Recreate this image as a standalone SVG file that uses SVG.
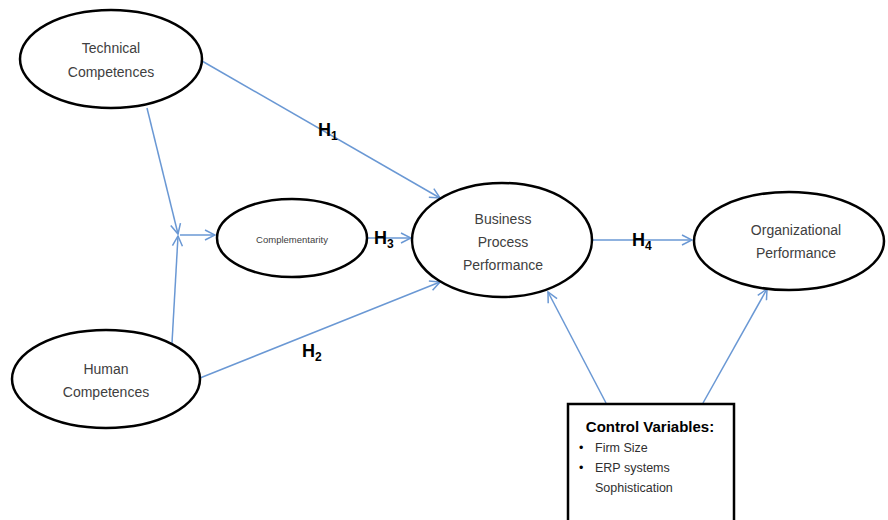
<svg xmlns="http://www.w3.org/2000/svg" width="888" height="520" viewBox="0 0 888 520">
<style>
.node{fill:#fff;stroke:#000;stroke-width:2.5}
.lbl{font-family:"Liberation Sans",Arial,sans-serif;font-size:14px;fill:#404040;text-anchor:middle}
.h{font-family:"Liberation Sans",Arial,sans-serif;font-size:18px;font-weight:bold;fill:#000}
.h tspan.s{font-size:12px}
.c{fill:none;stroke:#6a98d4;stroke-width:1.5;marker-end:url(#ah)}
.box{font-family:"Liberation Sans",Arial,sans-serif;font-size:12.5px;fill:#303030}
.bul{font-family:"Liberation Sans",Arial,sans-serif;font-size:12.5px;fill:#000}
</style>
<defs>
<marker id="ah" viewBox="0 0 12 12" refX="11" refY="6" markerWidth="12" markerHeight="12" markerUnits="userSpaceOnUse" orient="auto">
<path d="M1,1 L11,6 L1,11" fill="none" stroke="#6a98d4" stroke-width="1.5"/>
</marker>
</defs>
<g id="connectors">
<line class="c" x1="202" y1="61" x2="440" y2="198"/>
<line class="c" x1="147" y1="108" x2="178" y2="234"/>
<line class="c" x1="172" y1="343" x2="178" y2="236"/>
<line class="c" x1="180" y1="235" x2="215" y2="235"/>
<line class="c" x1="367" y1="238" x2="411" y2="238"/>
<line class="c" x1="200" y1="378" x2="440" y2="282"/>
<line class="c" x1="593" y1="240" x2="692" y2="240"/>
<line class="c" x1="606" y1="403" x2="548" y2="292"/>
<line class="c" x1="703" y1="403" x2="767" y2="289"/>
</g>
<g id="h-labels">
<text class="h" x="318" y="136">H<tspan class="s" dy="4">1</tspan></text>
<text class="h" x="374" y="244">H<tspan class="s" dy="4">3</tspan></text>
<text class="h" x="632" y="246">H<tspan class="s" dy="4">4</tspan></text>
<text class="h" x="302" y="357">H<tspan class="s" dy="4">2</tspan></text>
</g>
<g id="technical">
<ellipse class="node" cx="111" cy="59" rx="91" ry="49"/>
<text class="lbl" x="111" y="53">Technical</text>
<text class="lbl" x="111" y="77">Competences</text>
</g>
<g id="complementarity">
<ellipse class="node" cx="292" cy="238" rx="75" ry="39"/>
<text class="lbl" x="292" y="243" style="font-size:9.5px">Complementarity</text>
</g>
<g id="human">
<ellipse class="node" cx="106" cy="379" rx="94" ry="49"/>
<text class="lbl" x="106" y="374">Human</text>
<text class="lbl" x="106" y="397">Competences</text>
</g>
<g id="bpp">
<ellipse class="node" cx="502" cy="240" rx="90" ry="57"/>
<text class="lbl" x="503" y="224">Business</text>
<text class="lbl" x="503" y="247">Process</text>
<text class="lbl" x="503" y="270">Performance</text>
</g>
<g id="orgperf">
<ellipse class="node" cx="789" cy="241" rx="95" ry="49"/>
<text class="lbl" x="796" y="235">Organizational</text>
<text class="lbl" x="796" y="258">Performance</text>
</g>
<g id="control">
<rect x="568" y="404" width="166" height="118" fill="#fff" stroke="#000" stroke-width="2.5"/>
<text class="box" x="650" y="432" text-anchor="middle" style="font-size:15px;font-weight:bold;fill:#000">Control Variables:</text>
<text class="bul" x="579" y="452">•</text>
<text class="box" x="595" y="452">Firm Size</text>
<text class="bul" x="579" y="472">•</text>
<text class="box" x="595" y="472">ERP systems</text>
<text class="box" x="595" y="492">Sophistication</text>
</g>
</svg>
